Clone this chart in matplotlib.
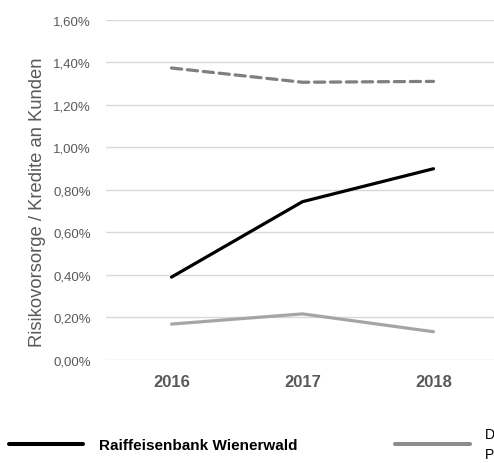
import matplotlib
matplotlib.use('Agg')
import matplotlib.pyplot as plt
from matplotlib.ticker import FuncFormatter

plt.rcParams['font.family'] = ['Liberation Sans', 'DejaVu Sans']

# ------------------------------------------------------------
# Daten (in %)
# ------------------------------------------------------------
years = ['2016', '2017', '2018']
rbw = [0.39, 0.745, 0.90]            # Raiffeisenbank Wienerwald
peer = [0.169, 0.217, 0.133]         # Durchschnitt Peergroup (hellgrau)
sektor = [1.374, 1.307, 1.311]       # gestrichelte Reihe
y_ticks = [0.0, 0.2, 0.4, 0.6, 0.8, 1.0, 1.2, 1.4, 1.6]

label_rbw = 'Raiffeisenbank Wienerwald'
label_peer = 'Durchschnitt\nPeergroup'
ylabel = 'Risikovorsorge / Kredite an Kunden'

GREY_TXT = '#595959'

fig = plt.figure(figsize=(4.94, 4.64), dpi=100)
ax = fig.add_axes([0.2146, 0.222, 0.7955, 0.7328])

x = range(len(years))
l1, = ax.plot(x, rbw, color='black', lw=2.3, solid_capstyle='round', label=label_rbw)
l2, = ax.plot(x, peer, color='#a5a5a5', lw=2.3, solid_capstyle='round', label=label_peer)
ax.plot(x, sektor, color='#7f7f7f', lw=2.3, linestyle=(0, (3.2, 1.8)),
        dash_capstyle='round')

ax.set_xlim(-0.5, len(years) - 0.5)
ax.set_ylim(0, 1.6)
ax.set_yticks(y_ticks)
ax.yaxis.set_major_formatter(FuncFormatter(lambda v, p: f"{v:.2f}%".replace('.', ',')))
ax.set_xticks(list(x))
ax.set_xticklabels(years, fontweight='bold', fontsize=12, color=GREY_TXT)
ax.tick_params(axis='y', length=0, pad=11, labelsize=9.5, labelcolor=GREY_TXT)
ax.tick_params(axis='x', length=0, pad=10)
ax.grid(axis='y', color='#d9d9d9', lw=1)
ax.set_axisbelow(True)
for s in ax.spines.values():
    s.set_visible(False)

ax.set_ylabel(ylabel, fontsize=13.2, color=GREY_TXT)
ax.yaxis.set_label_coords(-0.152, 0.468)

leg = fig.legend(handles=[l1, l2], loc='center left', bbox_to_anchor=(0.002, 0.041),
                 ncol=2, frameon=False, borderpad=0, handlelength=4.9,
                 handletextpad=1.0, columnspacing=6.4,
                 prop={'size': 11, 'weight': 'bold'})
for line in leg.get_lines():
    line.set_linewidth(2.9)
leg.get_lines()[1].set_color('#8c8c8c')
leg.get_texts()[1].set_fontweight('normal')
leg.get_texts()[1].set_fontsize(10)
leg.get_texts()[1].set_linespacing(1.5)

fig.savefig('out.png', dpi=100)
